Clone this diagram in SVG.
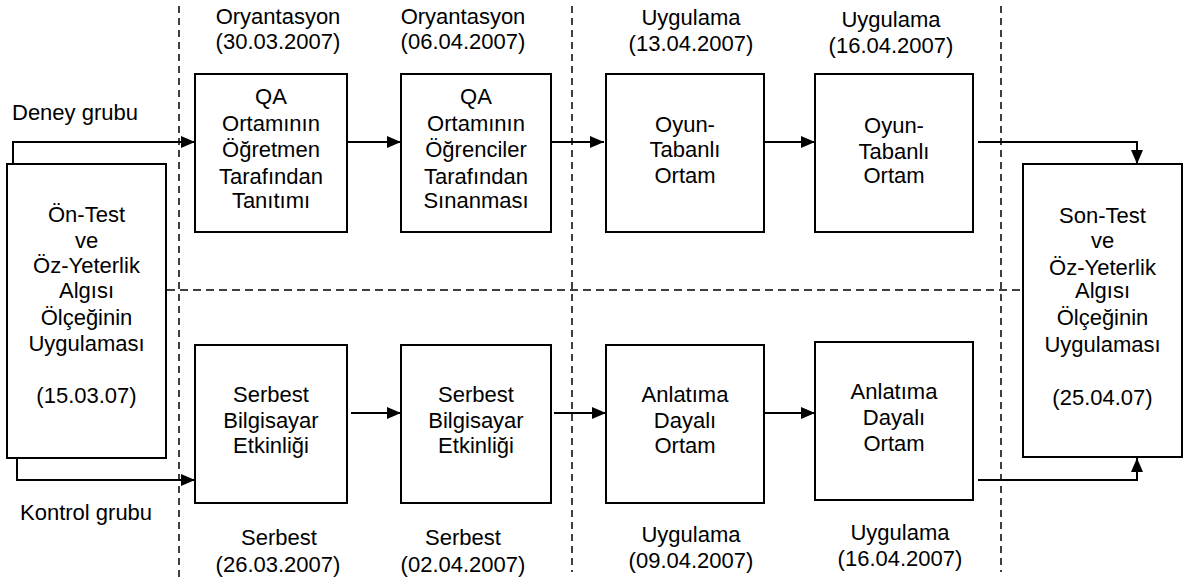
<svg xmlns="http://www.w3.org/2000/svg" width="1183" height="582" viewBox="0 0 1183 582">
<style>
text{font-family:"Liberation Sans",Arial,sans-serif;font-size:22px;fill:#000;text-anchor:middle}
.lbl{text-anchor:start}
.box{fill:#fff;stroke:#000;stroke-width:2}
.con{fill:none;stroke:#000;stroke-width:2}
.dv{stroke:#000;stroke-width:1.5;stroke-dasharray:7 5;fill:none}
.dh{stroke:#000;stroke-width:1.5;stroke-dasharray:8 5;fill:none}
</style>
<defs>
<marker id="ah" markerUnits="userSpaceOnUse" markerWidth="14" markerHeight="12" refX="14" refY="6" orient="auto">
<path d="M0,0 L14,6 L0,12 Z" fill="#000"/>
</marker>
</defs>
<rect width="1183" height="582" fill="#fff"/>
<g id="guides">
<line class="dv" x1="179" y1="6" x2="179" y2="582"/>
<line class="dv" x1="572" y1="6" x2="572" y2="572"/>
<line class="dv" x1="1001" y1="6" x2="1001" y2="572"/>
<line class="dh" x1="167" y1="290" x2="1023" y2="290"/>
</g>
<g id="connectors">
<path class="con" d="M13,164 V142 H195" marker-end="url(#ah)"/>
<path class="con" d="M347,142 H401" marker-end="url(#ah)"/>
<path class="con" d="M550,142 H604" marker-end="url(#ah)"/>
<path class="con" d="M764,142 H815" marker-end="url(#ah)"/>
<path class="con" d="M978,142 H1137 V164" marker-end="url(#ah)"/>
<path class="con" d="M17,458 V480 H195" marker-end="url(#ah)"/>
<path class="con" d="M351,413 H401" marker-end="url(#ah)"/>
<path class="con" d="M554,413 H606" marker-end="url(#ah)"/>
<path class="con" d="M764,413 H815" marker-end="url(#ah)"/>
<path class="con" d="M978,480 H1137 V458" marker-end="url(#ah)"/>
</g>
<g id="labels">
<text class="lbl" x="12" y="120">Deney grubu</text>
<text class="lbl" x="20" y="520">Kontrol grubu</text>
<text x="278" y="24">Oryantasyon</text>
<text x="278" y="49">(30.03.2007)</text>
<text x="463" y="24">Oryantasyon</text>
<text x="463" y="49">(06.04.2007)</text>
<text x="691" y="25">Uygulama</text>
<text x="691" y="51">(13.04.2007)</text>
<text x="891" y="27">Uygulama</text>
<text x="891" y="53">(16.04.2007)</text>
<text x="279" y="545">Serbest</text>
<text x="278" y="572">(26.03.2007)</text>
<text x="463" y="545">Serbest</text>
<text x="463" y="572">(02.04.2007)</text>
<text x="691" y="542">Uygulama</text>
<text x="691" y="568">(09.04.2007)</text>
<text x="900" y="540">Uygulama</text>
<text x="900" y="566">(16.04.2007)</text>
</g>
<g id="pretest">
<rect class="box" x="7" y="164" width="159" height="294"/>
<text x="86.5" y="222">Ön-Test</text>
<text x="86.5" y="248">ve</text>
<text x="86.5" y="273">Öz-Yeterlik</text>
<text x="86.5" y="298">Algısı</text>
<text x="86.5" y="325">Ölçeğinin</text>
<text x="86.5" y="351">Uygulaması</text>
<text x="86.5" y="403">(15.03.07)</text>
</g>
<g id="qa1">
<rect class="box" x="195" y="74" width="152" height="158"/>
<text x="271" y="104">QA</text>
<text x="271" y="131">Ortamının</text>
<text x="271" y="157">Öğretmen</text>
<text x="271" y="184">Tarafından</text>
<text x="271" y="208">Tanıtımı</text>
</g>
<g id="qa2">
<rect class="box" x="401" y="74" width="150" height="158"/>
<text x="476" y="104">QA</text>
<text x="476" y="131">Ortamının</text>
<text x="476" y="157">Öğrenciler</text>
<text x="476" y="184">Tarafından</text>
<text x="476" y="208">Sınanması</text>
</g>
<g id="oyun1">
<rect class="box" x="606" y="74" width="158" height="158"/>
<text x="685" y="132">Oyun-</text>
<text x="685" y="157">Tabanlı</text>
<text x="685" y="183">Ortam</text>
</g>
<g id="oyun2">
<rect class="box" x="815" y="74" width="158" height="158"/>
<text x="894" y="133">Oyun-</text>
<text x="894" y="159">Tabanlı</text>
<text x="894" y="183">Ortam</text>
</g>
<g id="posttest">
<rect class="box" x="1023" y="164" width="159" height="293"/>
<text x="1102.5" y="223">Son-Test</text>
<text x="1102.5" y="248">ve</text>
<text x="1102.5" y="275">Öz-Yeterlik</text>
<text x="1102.5" y="298">Algısı</text>
<text x="1102.5" y="325">Ölçeğinin</text>
<text x="1102.5" y="352">Uygulaması</text>
<text x="1102.5" y="405">(25.04.07)</text>
</g>
<g id="serbest1">
<rect class="box" x="195" y="345" width="152" height="158"/>
<text x="271" y="402">Serbest</text>
<text x="271" y="428">Bilgisayar</text>
<text x="271" y="453">Etkinliği</text>
</g>
<g id="serbest2">
<rect class="box" x="401" y="345" width="150" height="158"/>
<text x="476" y="402">Serbest</text>
<text x="476" y="428">Bilgisayar</text>
<text x="476" y="453">Etkinliği</text>
</g>
<g id="anlatim1">
<rect class="box" x="606" y="345" width="158" height="158"/>
<text x="685" y="402">Anlatıma</text>
<text x="685" y="428">Dayalı</text>
<text x="685" y="453">Ortam</text>
</g>
<g id="anlatim2">
<rect class="box" x="815" y="342" width="158" height="158"/>
<text x="894" y="399">Anlatıma</text>
<text x="894" y="425">Dayalı</text>
<text x="894" y="451">Ortam</text>
</g>
</svg>
